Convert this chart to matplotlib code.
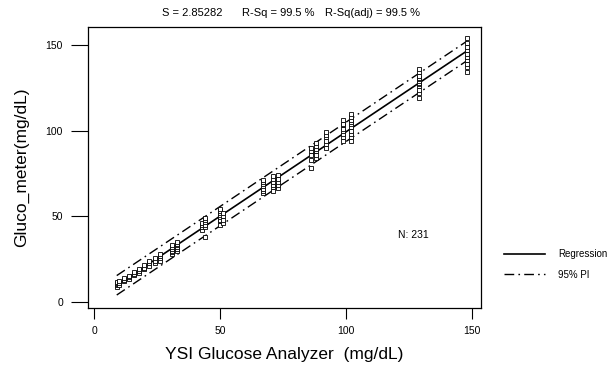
import numpy as np
import matplotlib
matplotlib.use("Agg")
import matplotlib.pyplot as plt
from matplotlib.lines import Line2D

plt.rcParams['font.family'] = ['Liberation Sans', 'DejaVu Sans']

# glucose readings: YSI reference (x) vs meter (y), grouped by reference level
ysi_levels = [9, 10, 12, 14, 16, 18, 20, 22, 24, 26, 31, 33, 43, 44, 50, 51,
              67, 71, 73, 86, 88, 92, 99, 102, 129, 148]
meter_vals = [
    [9, 10, 10.5, 11, 11.5],
    [10, 11, 12],
    [12, 13, 14],
    [13.5, 14.5, 15],
    [15.5, 16.5, 17.5],
    [17, 18, 19],
    [19, 20, 21.5],
    [21, 22.5, 24],
    [23, 24, 25.5],
    [24, 25.5, 27, 28],
    [28, 29, 30, 31, 32, 33],
    [29.5, 31, 32, 33, 34, 35],
    [42, 43.5, 45, 46],
    [38, 44, 45, 46.5, 48, 49],
    [45, 47, 48, 49.5, 50.5, 52, 53, 54],
    [46, 48, 50, 52],
    [63.5, 65, 66, 67.5, 69, 70, 71],
    [65, 67, 68.5, 70, 72, 73.5],
    [66.5, 68, 70, 72, 74],
    [78, 83, 86, 88, 90],
    [84, 86, 88, 89.5, 91, 93],
    [90, 92, 94, 96, 97.5, 99],
    [94, 96, 98, 100, 101, 103, 104, 106],
    [94, 96, 98, 100, 102, 104, 105, 106.5, 108, 110],
    [119, 122, 124, 126, 127, 128, 129, 130, 131, 132, 134, 136],
    [134, 137, 139, 141, 143, 145, 147, 149, 151, 154],
]
s_value = 2.85282
n_total = 231

x = np.concatenate([[lv] * len(v) for lv, v in zip(ysi_levels, meter_vals)])
y = np.concatenate(meter_vals)

# regression fit + 95% prediction interval
slope, icpt = np.polyfit(x, y, 1)
xs = np.linspace(x.min(), x.max(), 50)
fit = icpt + slope * xs
half = 1.97 * s_value * np.sqrt(1 + 1 / n_total + (xs - x.mean()) ** 2 / np.sum((x - x.mean()) ** 2))

fig = plt.figure(figsize=(6.13, 3.70), dpi=100)
ax = fig.add_axes([0.1436, 0.1676, 0.641, 0.7595])

dd = (7, 3, 1.2, 3)
ax.plot(x, y, 's', ms=3, mfc='white', mec='black', mew=0.6, zorder=3)
ax.plot(xs, fit, color='black', lw=1.2)
ax.plot(xs, fit + half, color='black', lw=1.0, dashes=dd)
ax.plot(xs, fit - half, color='black', lw=1.0, dashes=dd)

ax.set_xlim(-2.4, 153.6)
ax.set_ylim(-3.5, 160.5)
ax.set_xticks([0, 50, 100, 150])
ax.set_yticks([0, 50, 100, 150])
ax.tick_params(axis='x', length=8, width=0.8, labelsize=7.5, pad=5)
ax.tick_params(axis='y', length=12, width=0.8, labelsize=7.5, pad=6)
for sp in ax.spines.values():
    sp.set_linewidth(0.9)

ax.set_xlabel('YSI Glucose Analyzer  (mg/dL)', fontsize=12.5, labelpad=8)
ax.set_ylabel('Gluco_meter(mg/dL)', fontsize=12.5, labelpad=12)

fig.text(162 / 613, 1 - 13 / 370, 'S = 2.85282', fontsize=8, va='center')
fig.text(242 / 613, 1 - 13 / 370, 'R-Sq = 99.5 %', fontsize=8, va='center')
fig.text(325 / 613, 1 - 13 / 370, 'R-Sq(adj) = 99.5 %', fontsize=8, va='center')
ax.text(0.79, 0.26, 'N: 231', transform=ax.transAxes, fontsize=7.5, va='center')

handles = [Line2D([], [], color='black', lw=1.2),
           Line2D([], [], color='black', lw=1.0, dashes=dd)]
fig.legend(handles, ['Regression', '95% PI'], loc='center left',
           bbox_to_anchor=(0.808, 0.285), frameon=False, fontsize=7,
           handlelength=4.2, handletextpad=1.4, labelspacing=1.1)

fig.savefig('out.png', dpi=100)
